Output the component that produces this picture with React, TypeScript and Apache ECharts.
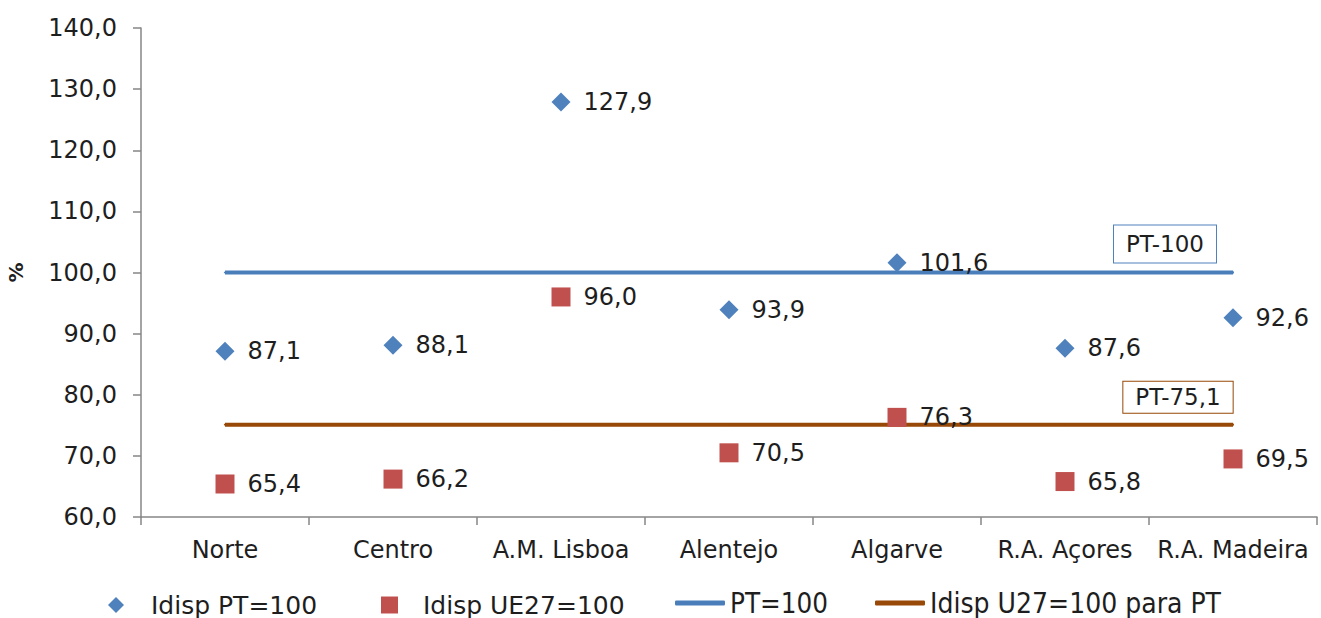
import React, { useEffect, useRef } from "react";
import * as echarts from "echarts";

const categories = ["Norte", "Centro", "A.M. Lisboa", "Alentejo", "Algarve", "R.A. Açores", "R.A. Madeira"];
const idispPT = [87.1, 88.1, 127.9, 93.9, 101.6, 87.6, 92.6];
const idispUE27 = [65.4, 66.2, 96.0, 70.5, 76.3, 65.8, 69.5];
const ptLine = [100, 100, 100, 100, 100, 100, 100];
const ue27Line = [75.1, 75.1, 75.1, 75.1, 75.1, 75.1, 75.1];
const seriesNames = ["Idisp PT=100", "Idisp UE27=100", "PT=100", "Idisp U27=100 para PT"];
const lineTags = ["PT-100", "PT-75,1"];

const BLUE = "#4F81BD";
const RED = "#C0504D";
const LBLUE = "#4A7EBB";
const BROWN = "#984807";
const AXIS = "#868686";
const TXT = "#1e1e1e";
const FONT = "'DejaVu Sans', Verdana, sans-serif";
const NARROW = "'DejaVu Sans Condensed', 'Liberation Sans Narrow', sans-serif";

const fmt = (v: number) => v.toFixed(1).replace(".", ",");

export default function App() {
  const ref = useRef<HTMLDivElement>(null);
  useEffect(() => {
    if (!ref.current) return;
    const chart = echarts.init(ref.current, null, { renderer: "svg" });
    const lastTag = (arr: number[], tag: string, color: string, offset: number[], pad: number[]) =>
      arr.map((v, i) =>
        i === arr.length - 1
          ? {
              value: v,
              symbolSize: 2,
              label: {
                show: true,
                position: "top",
                distance: 9,
                offset,
                formatter: tag,
                fontFamily: FONT,
                fontSize: 23,
                color: TXT,
                opacity: 1,
                backgroundColor: "#fff",
                borderColor: color,
                borderWidth: 1,
                padding: pad,
              },
            }
          : v
      );
    const legendBase = {
      top: 592,
      padding: 0,
      orient: "horizontal",
      selectedMode: false,
      textStyle: { fontFamily: FONT, fontSize: 25, color: TXT, lineHeight: 26 },
    };
    chart.setOption({
      animation: false,
      backgroundColor: "#fff",
      grid: { left: 141, right: 4, top: 28, bottom: 101, containLabel: false, outerBoundsMode: "none" },
      legend: [
        {
          ...legendBase,
          left: 108,
          itemWidth: 16,
          itemHeight: 16,
          data: [{ name: seriesNames[0], icon: "diamond" }],
          textStyle: { ...legendBase.textStyle, padding: [0, 0, 0, 22] },
        },
        {
          ...legendBase,
          left: 381,
          itemWidth: 17,
          itemHeight: 17,
          data: [{ name: seriesNames[1], icon: "rect" }],
          textStyle: { ...legendBase.textStyle, padding: [0, 0, 0, 20] },
        },
        {
          ...legendBase,
          top: 588,
          left: 675,
          itemWidth: 50,
          itemHeight: 5,
          data: [{ name: seriesNames[2], icon: "roundRect", itemStyle: { color: LBLUE, opacity: 1 } }],
          textStyle: { ...legendBase.textStyle, fontFamily: NARROW, fontSize: 27.5, lineHeight: 30 },
        },
        {
          ...legendBase,
          top: 588,
          left: 875,
          itemWidth: 50,
          itemHeight: 5,
          data: [{ name: seriesNames[3], icon: "roundRect", itemStyle: { color: BROWN, opacity: 1 } }],
          textStyle: { ...legendBase.textStyle, fontFamily: NARROW, fontSize: 28, lineHeight: 30 },
        },
      ],
      xAxis: {
        type: "category",
        data: categories,
        boundaryGap: true,
        axisLine: { lineStyle: { color: AXIS, width: 1.5 } },
        axisTick: { show: true, length: 8, alignWithLabel: false, lineStyle: { color: AXIS, width: 1.5 } },
        axisLabel: { interval: 0, margin: 21, fontFamily: FONT, fontSize: 24, color: TXT },
        splitLine: { show: false },
      },
      yAxis: {
        type: "value",
        min: 60,
        max: 140,
        interval: 10,
        name: "%",
        nameLocation: "middle",
        nameGap: 115,
        nameRotate: 90,
        nameTextStyle: { fontFamily: FONT, fontSize: 20, fontWeight: "bold", color: TXT },
        axisLine: { show: true, lineStyle: { color: AXIS, width: 1.5 } },
        axisTick: { show: true, length: 8, lineStyle: { color: AXIS, width: 1.5 } },
        axisLabel: { margin: 24, fontFamily: FONT, fontSize: 24, color: TXT, formatter: (v: number) => fmt(v) },
        splitLine: { show: false },
      },
      series: [
        {
          name: seriesNames[2],
          type: "line",
          data: lastTag(ptLine, lineTags[0], BLUE, [-68, 0], [7, 12]),
          showSymbol: true,
          symbol: "circle",
          symbolSize: 2,
          lineStyle: { color: LBLUE, width: 4 },
          itemStyle: { color: LBLUE, borderWidth: 0 },
          z: 2,
        },
        {
          name: seriesNames[3],
          type: "line",
          data: lastTag(ue27Line, lineTags[1], BROWN, [-55, -2], [4, 12]),
          showSymbol: true,
          symbol: "circle",
          symbolSize: 2,
          lineStyle: { color: BROWN, width: 4 },
          itemStyle: { color: BROWN, borderWidth: 0 },
          z: 2,
        },
        {
          name: seriesNames[0],
          type: "scatter",
          data: idispPT,
          symbol: "diamond",
          symbolSize: [19, 19],
          itemStyle: { color: BLUE, opacity: 1 },
          label: {
            show: true,
            position: "right",
            distance: 13,
            fontFamily: FONT,
            fontSize: 24,
            color: TXT,
            opacity: 1,
            formatter: (p: any) => fmt(p.value),
          },
          z: 3,
        },
        {
          name: seriesNames[1],
          type: "scatter",
          data: idispUE27,
          symbol: "rect",
          symbolSize: 19,
          itemStyle: { color: RED, opacity: 1 },
          label: {
            show: true,
            position: "right",
            distance: 13,
            fontFamily: FONT,
            fontSize: 24,
            color: TXT,
            opacity: 1,
            formatter: (p: any) => fmt(p.value),
          },
          z: 3,
        },
      ],
    });
    return () => chart.dispose();
  }, []);
  return <div ref={ref} style={{ position: "fixed", left: 0, top: 0, width: 1321, height: 618 }} />;
}
